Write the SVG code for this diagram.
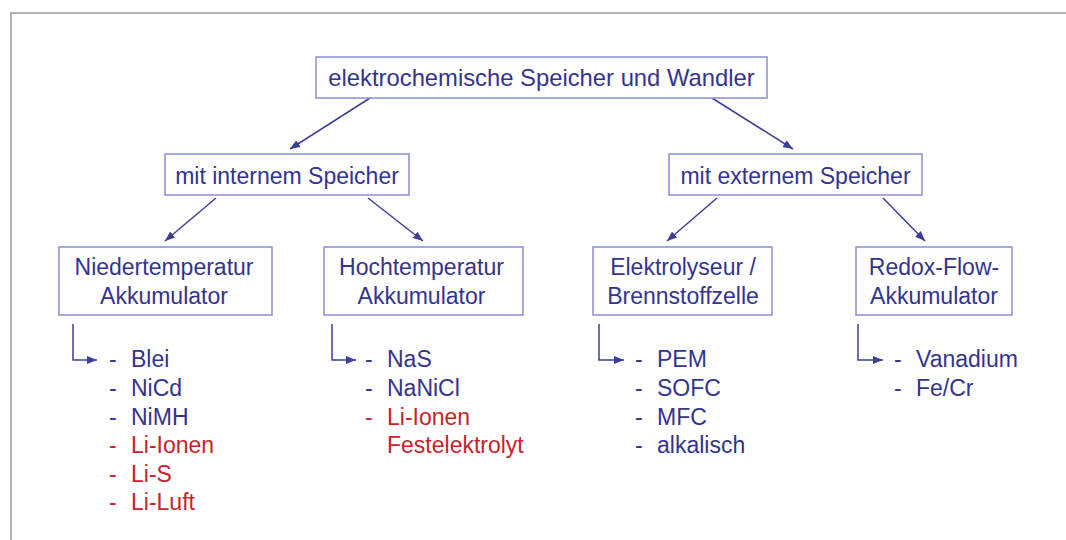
<svg xmlns="http://www.w3.org/2000/svg" width="1066" height="540" viewBox="0 0 1066 540">
<style>
.box{fill:#fff;stroke:#8c8cd2;stroke-width:1.5}
.t{font-family:"Liberation Sans",Arial,sans-serif;font-size:23px;fill:#34348e}
.c{text-anchor:middle}
.r{fill:#c8232c}
.ln{fill:none;stroke:#3e3e98;stroke-width:1.5}
</style>
<defs>
<marker id="ah" viewBox="0 0 10 10" refX="10" refY="5" markerWidth="10" markerHeight="10" markerUnits="userSpaceOnUse" orient="auto">
<path d="M0,1 L10,5 L0,9 Z" fill="#3e3e98"/>
</marker>
</defs>
<rect width="1066" height="540" fill="#fff"/>
<path d="M11,540 V13 H1066" fill="none" stroke="#9a9a9a" stroke-width="1.5"/>

<g id="connectors">
<line class="ln" x1="370" y1="98" x2="290" y2="149" marker-end="url(#ah)"/>
<line class="ln" x1="712" y1="98" x2="793" y2="149" marker-end="url(#ah)"/>
<line class="ln" x1="216" y1="198" x2="165" y2="241" marker-end="url(#ah)"/>
<line class="ln" x1="368" y1="198" x2="423" y2="241" marker-end="url(#ah)"/>
<line class="ln" x1="717" y1="198" x2="667" y2="241" marker-end="url(#ah)"/>
<line class="ln" x1="883" y1="198" x2="925" y2="241" marker-end="url(#ah)"/>
<path class="ln" d="M73,324 V360 H97" marker-end="url(#ah)"/>
<path class="ln" d="M332,324 V360 H356" marker-end="url(#ah)"/>
<path class="ln" d="M599,324 V360 H624" marker-end="url(#ah)"/>
<path class="ln" d="M858,324 V360 H883" marker-end="url(#ah)"/>
</g>

<g id="root">
<rect class="box" x="316" y="57" width="451" height="41"/>
<text class="t c" x="541.5" y="86" style="font-size:23.8px">elektrochemische Speicher und Wandler</text>
</g>
<g id="intern">
<rect class="box" x="165" y="154" width="244" height="41"/>
<text class="t c" x="287" y="184">mit internem Speicher</text>
</g>
<g id="extern">
<rect class="box" x="669" y="154" width="253" height="41"/>
<text class="t c" x="795.5" y="184">mit externem Speicher</text>
</g>
<g id="nieder">
<rect class="box" x="59" y="247" width="213" height="68"/>
<text class="t c" x="164" y="275">Niedertemperatur</text>
<text class="t c" x="164" y="304">Akkumulator</text>
</g>
<g id="hoch">
<rect class="box" x="324" y="247" width="199" height="68"/>
<text class="t c" x="421.5" y="275">Hochtemperatur</text>
<text class="t c" x="421.5" y="304">Akkumulator</text>
</g>
<g id="elektro">
<rect class="box" x="593" y="247" width="179" height="68"/>
<text class="t c" x="683" y="275">Elektrolyseur /</text>
<text class="t c" x="683" y="304">Brennstoffzelle</text>
</g>
<g id="redox">
<rect class="box" x="856" y="247" width="156" height="68"/>
<text class="t c" x="934" y="275">Redox-Flow-</text>
<text class="t c" x="934" y="304">Akkumulator</text>
</g>

<g id="list-nieder">
<text class="t" x="109" y="367">-</text><text class="t" x="131" y="367">Blei</text>
<text class="t" x="109" y="396">-</text><text class="t" x="131" y="396">NiCd</text>
<text class="t" x="109" y="425">-</text><text class="t" x="131" y="425">NiMH</text>
<text class="t r" x="109" y="453">-</text><text class="t r" x="131" y="453">Li-Ionen</text>
<text class="t r" x="109" y="482">-</text><text class="t r" x="131" y="482">Li-S</text>
<text class="t r" x="109" y="510">-</text><text class="t r" x="131" y="510">Li-Luft</text>
</g>
<g id="list-hoch">
<text class="t" x="365" y="367">-</text><text class="t" x="387" y="367">NaS</text>
<text class="t" x="365" y="396">-</text><text class="t" x="387" y="396">NaNiCl</text>
<text class="t r" x="365" y="425">-</text><text class="t r" x="387" y="425">Li-Ionen</text>
<text class="t r" x="387" y="453">Festelektrolyt</text>
</g>
<g id="list-elektro">
<text class="t" x="635" y="367">-</text><text class="t" x="657" y="367">PEM</text>
<text class="t" x="635" y="396">-</text><text class="t" x="657" y="396">SOFC</text>
<text class="t" x="635" y="425">-</text><text class="t" x="657" y="425">MFC</text>
<text class="t" x="635" y="453">-</text><text class="t" x="657" y="453">alkalisch</text>
</g>
<g id="list-redox">
<text class="t" x="894" y="367">-</text><text class="t" x="916" y="367">Vanadium</text>
<text class="t" x="894" y="396">-</text><text class="t" x="916" y="396">Fe/Cr</text>
</g>
</svg>
